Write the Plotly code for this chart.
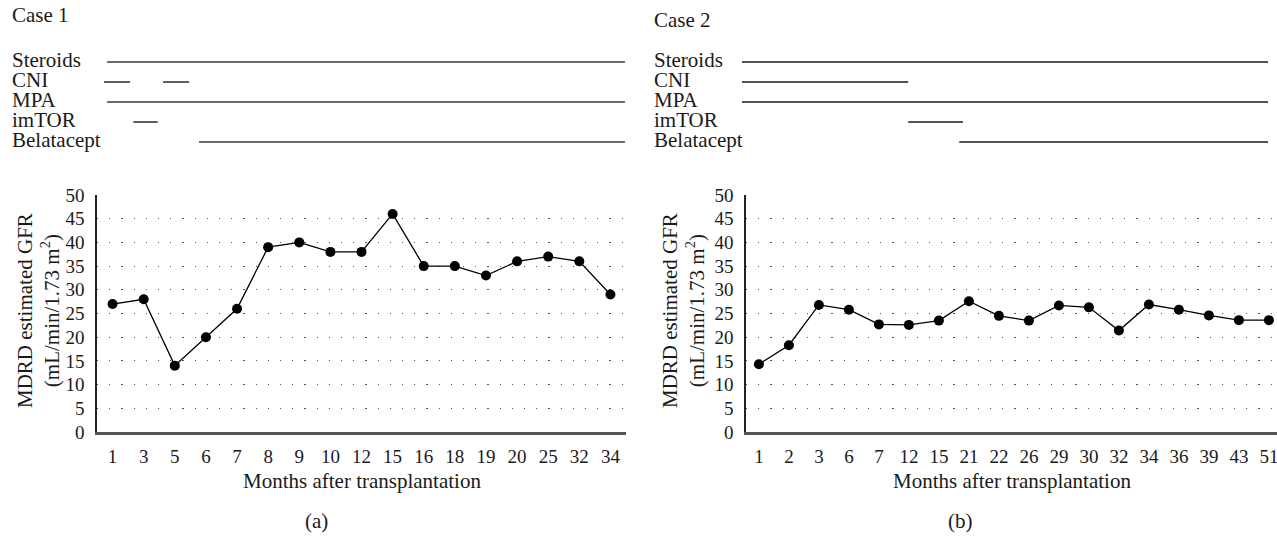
import plotly.graph_objects as go

# ---------------- data ----------------
case1_months = ["1", "3", "5", "6", "7", "8", "9", "10", "12", "15", "16", "18", "19", "20", "25", "32", "34"]
case1_gfr = [27, 28, 14, 20, 26, 39, 40, 38, 38, 46, 35, 35, 33, 36, 37, 36, 29]

case2_months = ["1", "2", "3", "6", "7", "12", "15", "21", "22", "26", "29", "30", "32", "34", "36", "39", "43", "51"]
case2_gfr = [14.3, 18.3, 26.8, 25.8, 22.7, 22.6, 23.5, 27.6, 24.5, 23.5, 26.7, 26.3, 21.4, 26.9, 25.8, 24.6, 23.6, 23.6]

treatments = ["Steroids", "CNI", "MPA", "imTOR", "Belatacept"]
# treatment periods as fractions of each case's timeline width
case1_periods = {
    "Steroids": [(0.006, 0.998)],
    "CNI": [(0.0, 0.05), (0.113, 0.163)],
    "MPA": [(0.006, 0.998)],
    "imTOR": [(0.056, 0.103)],
    "Belatacept": [(0.182, 0.998)],
}
case2_periods = {
    "Steroids": [(0.0, 1.0)],
    "CNI": [(0.0, 0.316)],
    "MPA": [(0.0, 1.0)],
    "imTOR": [(0.316, 0.42)],
    "Belatacept": [(0.413, 1.0)],
}

y_ticks = list(range(0, 55, 5))
y_title = "MDRD estimated GFR<br>(mL/min/1.73 m<sup>2</sup>)"
x_title = "Months after transplantation"

# ---------------- layout helpers ----------------
W, H = 1277, 537
FONT = "Liberation Serif"
def px_x(v):
    return v / W
def px_y(v):
    return 1 - v / H

fig = go.Figure()

# GFR traces
fig.add_trace(go.Scatter(x=case1_months, y=case1_gfr, mode="lines+markers",
                         line=dict(color="black", width=1.3),
                         marker=dict(color="black", size=10),
                         xaxis="x", yaxis="y", showlegend=False))
fig.add_trace(go.Scatter(x=case2_months, y=case2_gfr, mode="lines+markers",
                         line=dict(color="black", width=1.3),
                         marker=dict(color="black", size=10),
                         xaxis="x2", yaxis="y2", showlegend=False))

# treatment timelines
def timeline_xy(periods):
    xs, ys = [], []
    for i, name in enumerate(treatments):
        for a, b in periods[name]:
            xs += [a, b, None]
            ys += [i, i, None]
    return xs, ys

tx1, ty1 = timeline_xy(case1_periods)
tx2, ty2 = timeline_xy(case2_periods)
fig.add_trace(go.Scatter(x=tx1, y=ty1, mode="lines", line=dict(color="#3a3a3a", width=1.6),
                         xaxis="x3", yaxis="y3", showlegend=False, hoverinfo="skip"))
fig.add_trace(go.Scatter(x=tx2, y=ty2, mode="lines", line=dict(color="#1a1a1a", width=1.6),
                         xaxis="x4", yaxis="y4", showlegend=False, hoverinfo="skip"))

tickfont = dict(family=FONT, size=19, color="#1a1a1a")
ydom = [px_y(432), px_y(195)]

def yaxis_cfg():
    return dict(domain=ydom, range=[0, 50], tickmode="array", tickvals=y_ticks,
                ticktext=[str(v) for v in y_ticks], showgrid=True, gridcolor="#555",
                gridwidth=1.1, griddash="1.2px,11px", zeroline=False,
                showline=True, linecolor="#222", linewidth=1.5, ticks="",
                tickfont=tickfont, ticklabelstandoff=7, fixedrange=True)

def xaxis_cfg(dom, rng, anchor):
    return dict(domain=dom, type="category", range=rng, showgrid=False, zeroline=False,
                showline=True, linecolor="#555", linewidth=2.5, ticks="",
                tickfont=tickfont, ticklabelstandoff=5, anchor=anchor, fixedrange=True)

tl_dom = [px_y(152), px_y(52)]
def hidden(dom, rng, anchor):
    return dict(domain=dom, range=rng, visible=False, showgrid=False, zeroline=False,
                anchor=anchor, fixedrange=True)

fig.update_layout(
    width=W, height=H, margin=dict(l=0, r=0, t=0, b=0, autoexpand=False),
    paper_bgcolor="white", plot_bgcolor="white",
    xaxis=xaxis_cfg([px_x(97), px_x(626)], [-0.5, 16.5], "y"),
    yaxis=dict(yaxis_cfg(), anchor="x"),
    xaxis2=xaxis_cfg([px_x(746), 1.0], [-0.43, 17.27], "y2"),
    yaxis2=dict(yaxis_cfg(), anchor="x2"),
    xaxis3=hidden([px_x(104), px_x(626)], [0, 1], "y3"),
    yaxis3=hidden(tl_dom, [4.5, -0.5], "x3"),
    xaxis4=hidden([px_x(742), px_x(1268)], [0, 1], "y4"),
    yaxis4=hidden(tl_dom, [4.5, -0.5], "x4"),
    showlegend=False,
)

txt = dict(family=FONT, size=21, color="#1a1a1a")
ann = []
# case titles
ann.append(dict(text="Case 1", x=px_x(10), y=px_y(15), xref="paper", yref="paper",
                xanchor="left", yanchor="middle", showarrow=False, font=txt))
ann.append(dict(text="Case 2", x=px_x(652), y=px_y(20), xref="paper", yref="paper",
                xanchor="left", yanchor="middle", showarrow=False, font=txt))
# treatment labels
for i, name in enumerate(treatments):
    ann.append(dict(text=name, x=px_x(10), y=i, xref="paper", yref="y3", yshift=2,
                    xanchor="left", yanchor="middle", showarrow=False, font=txt))
    ann.append(dict(text=name, x=px_x(652), y=i, xref="paper", yref="y4", yshift=2,
                    xanchor="left", yanchor="middle", showarrow=False, font=txt))
# axis titles
for cx in (px_x(361.5), px_x(1011.5)):
    ann.append(dict(text=x_title, x=cx, y=px_y(481), xref="paper", yref="paper",
                    xanchor="center", yanchor="middle", showarrow=False, font=txt))
for cx in (px_x(38), px_x(683)):
    ann.append(dict(text=y_title, x=cx, y=px_y(311), xref="paper", yref="paper",
                    xanchor="center", yanchor="middle", textangle=-90, showarrow=False,
                    font=txt))
# panel letters
ann.append(dict(text="(a)", x=px_x(316), y=px_y(521), xref="paper", yref="paper",
                xanchor="center", yanchor="middle", showarrow=False, font=txt))
ann.append(dict(text="(b)", x=px_x(960), y=px_y(521), xref="paper", yref="paper",
                xanchor="center", yanchor="middle", showarrow=False, font=txt))
fig.update_layout(annotations=ann)

fig.write_html("out.html", config={"displayModeBar": False},
               post_script="document.body.style.margin='0';document.body.style.overflow='hidden';")
